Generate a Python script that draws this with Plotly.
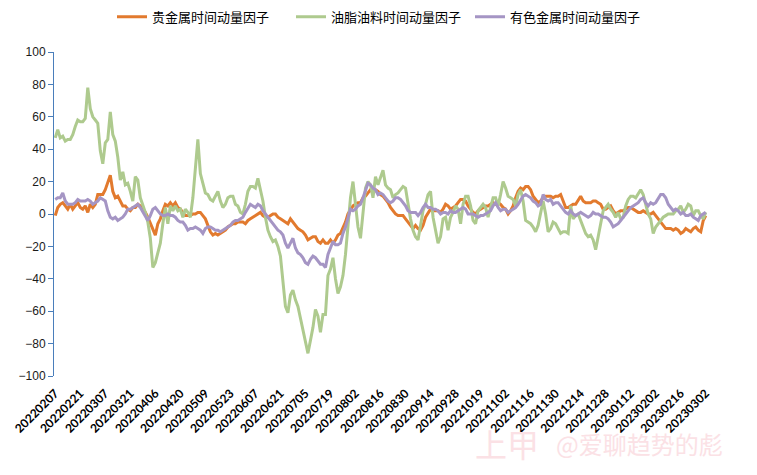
import plotly.graph_objects as go

tick_labels = ["20220207", "20220221", "20220307", "20220321", "20220406", "20220420",
               "20220509", "20220523", "20220607", "20220621", "20220705", "20220719",
               "20220802", "20220816", "20220830", "20220914", "20220928", "20221019",
               "20221102", "20221116", "20221130", "20221214", "20221228", "20230112",
               "20230202", "20230216", "20230302"]

precious = [-1, 4, 6, 7, 5, 3, 6, 3, 5, 7,
            4, 3, 5, 1, 6, 4, 6, 12, 12, 12,
            15, 20, 24, 14, 10, 11, 8, 5, 5, 3,
            2, 4, 4, 6, 5, 3, 1, -2, -6, -10,
            -13, -6, -3, 2, 6, 5, 7, 5, 7, 4,
            3, 1, -1, -1, -1, 0, 0, 1, 1, -1,
            -3, -7, -11, -13, -12, -13, -12, -11, -10, -8,
            -7, -6, -6, -5, -5, -5, -6, -4, -3, -2,
            -1, 0, 1, -1, -2, -2, -1, 0, 0, -2,
            -3, -4, -5, -6, -3, -5, -7, -9, -10, -11,
            -13, -16, -15, -14, -14, -17, -18, -16, -18, -18,
            -16, -18, -16, -13, -12, -9, -5, 0, 3, 5,
            6, 7, 7, 10, 11, 13, 15, 13, 15, 14,
            12, 11, 9, 7, 4, 2, 0, -1, -1, -1,
            -3, -5, -7, -9, -7, -9, -10, -7, -2, 1,
            3, 2, 2, 2, 1, 3, 6, 5, 3, 4,
            5, 7, 9, 9, 8, 5, 3, 1, 0, 2,
            3, 4, 5, 5, 6, 7, 6, 7, 6, 4,
            3, 0, 2, 5, 10, 14, 16, 15, 17, 17,
            15, 11, 9, 7, 8, 10, 11, 11, 11, 10,
            11, 11, 12, 8, 4, 4, 5, 6, 6, 9,
            11, 8, 7, 7, 7, 8, 8, 7, 6, 3,
            3, 4, 5, 2, 0, 1, 2, 2, 3, 4,
            4, 3, 2, 1, 1, 2, 1, 0, 0, 1,
            -1, -3, -5, -7, -9, -9, -9, -10, -9, -10,
            -12, -11, -9, -10, -11, -9, -8, -10, -11, -4,
            -1]

oils = [47, 52, 47, 48, 45, 46, 46, 49, 54, 58,
        57, 57, 59, 78, 65, 60, 58, 56, 39, 31,
        44, 46, 63, 49, 45, 35, 21, 26, 18, 19,
        14, 8, 23, 21, 10, 6, 1, -5, -15, -33,
        -30, -24, -18, -6, 4, -6, 5, 2, 5, 2,
        3, -2, 3, 1, -2, 10, 28, 46, 25, 19,
        13, 12, 9, 8, 11, 14, 8, 4, 6, 10,
        11, 11, 6, 5, 1, 0, 6, 14, 17, 17,
        16, 22, 15, 8, -2, -10, -14, -17, -16, -20,
        -26, -42, -57, -61, -50, -47, -53, -57, -64, -72,
        -80, -86, -78, -70, -59, -63, -73, -62, -62, -38,
        -34, -27, -40, -49, -45, -38, -25, -5, 10, 20,
        5, -8, -15, 2, 16, 20, 18, 10, 23, 18,
        22, 27, 18, 16, 15, 10, 12, 13, 15, 17,
        16, 5, -3, -10, -14, -16, -6, 2, 6, 12,
        14, -2, -10, -18, -14, -3, -2, -10, -2, 1,
        5, 3, -6, 6, 11, 11, 5, -4, -6, 2,
        4, 6, 4, -2, 4, 10, 10, 5, 12, 20,
        16, 11, 10, 9, 5, 12, 15, 8, -4, -5,
        -6, -8, -11, -7, 1, 8, 0, -11, -9, -5,
        -6, -9, -12, -11, -11, -12, 5, -3, -1, 0,
        -4, -8, -12, -14, -13, -16, -22, -14, -6, 2,
        4, 6, 3, 1, -2, 1, -3, -2, 5, 9,
        11, 11, 10, 13, 15, 12, 5, 0, -3, -12,
        -8, -6, -4, -2, -1, 0, 0, 0, 2, 3,
        5, 1, 3, 6, 5, -1, 2, 2, -1, -3,
        1]

nonferrous = [9, 10, 10, 13, 8, 6, 6, 6, 7, 9,
              8, 8, 8, 9, 8, 6, 7, 8, 10, 9,
              8, 2, -2, -3, -2, -4, -3, -2, 0, 3,
              3, 4, 5, 6, 4, 1, -2, -4, -1, 3,
              4, 2, 0, -1, -1, 0, -1, -1, -2, -4,
              -5, -5, -7, -10, -9, -9, -8, -9, -10, -12,
              -9, -8, -8, -9, -10, -10, -11, -10, -9, -8,
              -7, -5, -4, -4, -3, -2, 1, 4, 6, 5,
              4, 6, 5, 2, 0, -2, -4, -6, -8, -10,
              -11, -13, -18, -21, -18, -15, -21, -24, -25, -27,
              -30, -31, -28, -26, -27, -29, -31, -31, -33, -25,
              -21, -17, -19, -19, -18, -12, -8, -3, 3, 2,
              3, 5, 6, 10, 14, 19, 18, 16, 15, 12,
              13, 12, 10, 8, 7, 8, 10, 10, 9, 7,
              5, 2, 1, 1, 1, -1, 1, 4, 6, 4,
              4, 3, 3, 2, 0, 1, 1, 0, 2, 1,
              1, 2, 3, 4, 3, 0, 0, 0, -1, -2,
              -1, -1, 0, 1, 2, 5, 7, 4, 2, 3,
              3, 1, 2, 3, 4, 6, 9, 11, 12, 11,
              10, 8, 7, 5, 6, 12, 9, 8, 9, 6,
              7, 7, 5, 3, 1, 0, 2, 0, -1, 0,
              1, 0, -1, -2, -1, 1, 0, 0, -1, -2,
              -2, -3, -5, -8, -7, -6, -4, -2, 0, 2,
              4, 5, 6, 7, 9, 10, 7, 5, 7, 6,
              7, 10, 12, 12, 10, 6, 4, 2, 3, 2,
              0, 1, -1, -1, 0, -2, -3, -4, -1, 0,
              1]

series_names = ["贵金属时间动量因子", "油脂油料时间动量因子", "有色金属时间动量因子"]
series_values = [precious, oils, nonferrous]
series_colors = ["#E27A2E", "#AECA8E", "#A595C4"]

n = len(precious)
x_idx = list(range(n))

fig = go.Figure()
for name, vals, col in zip(series_names, series_values, series_colors):
    fig.add_trace(go.Scatter(x=x_idx, y=vals, mode="lines", name=name,
                             line=dict(color=col, width=3)))

tick_pos = list(range(0, n, 10))[:len(tick_labels)]

fig.update_layout(
    width=749, height=467,
    margin=dict(l=46, r=50, t=44, b=99, autoexpand=False),
    paper_bgcolor="white", plot_bgcolor="white",
    showlegend=True,
    legend=dict(orientation="h", x=0.5, xanchor="center", yref="container",
                y=0.981, yanchor="middle",
                font=dict(family="Noto Sans CJK SC", size=13, color="#000000"),
                entrywidth=134, entrywidthmode="pixels"),
    xaxis=dict(range=[-0.5, n - 0.5], showgrid=False, zeroline=False,
               showline=False, tickmode="array", tickvals=tick_pos,
               ticktext=tick_labels, tickangle=-45, ticks="", automargin=False,
               ticklabelstandoff=7,
               tickfont=dict(family="Lato", size=12, color="#000000", weight="bold")),
    yaxis=dict(range=[-100, 100], tickvals=list(range(-100, 101, 20)),
               showgrid=False, zeroline=False, showline=True, automargin=False,
               linecolor="#4A7EBB", linewidth=1, ticks="outside", ticklen=5,
               tickcolor="#4A7EBB",
               tickfont=dict(family="Liberation Sans", size=12, color="#1a1a1a")),
)

fig.add_annotation(text="上甲", xref="paper", yref="paper",
                   x=0.694, y=-0.207, xanchor="center", yanchor="middle",
                   showarrow=False,
                   font=dict(family="Noto Sans CJK SC", size=32, color="#FBE1E5"))
fig.add_annotation(text="@爱聊趋势的彪", xref="paper", yref="paper",
                   x=1.028, y=-0.207, xanchor="right", yanchor="middle",
                   showarrow=False,
                   font=dict(family="Noto Sans CJK SC", size=24, color="#FBE1E5"))

fig.write_html("out.html")
